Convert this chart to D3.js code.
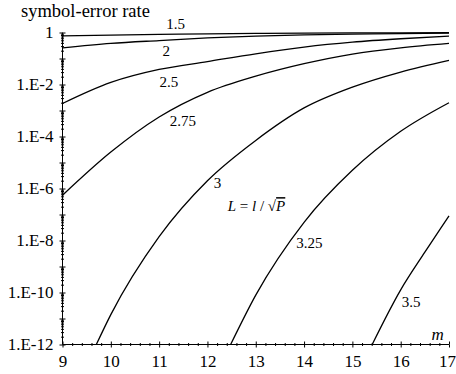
<!DOCTYPE html>
<html>
<head>
<meta charset="utf-8">
<script src="https://cdn.jsdelivr.net/npm/d3@7"></script>
<style>
  body { margin: 0; background: #fff; }
  svg text { font-family: "Liberation Serif", "Times New Roman", serif; fill: #000; }
</style>
</head>
<body>
<div id="chart"></div>
<script>
// L = l / sqrt(P) for each curve
const levels = ["1.5", "2", "2.5", "2.75", "3", "3.25", "3.5"];

// m values and log10(symbol-error rate)
const mAll = [9, 10, 11, 12, 13, 14, 15, 16, 17];
const ser15 = [-0.13, -0.10, -0.07, -0.05, -0.035, -0.025, -0.017, -0.011, -0.007];
const ser20 = [-0.59, -0.42, -0.31, -0.21, -0.14, -0.09, -0.06, -0.04, -0.025];
const ser25 = [-2.73, -1.92, -1.42, -1.12, -0.82, -0.56, -0.37, -0.24, -0.14];
const ser275 = [-6.26, -4.6, -3.25, -2.3, -1.68, -1.2, -0.83, -0.59, -0.42];
const m30 = [9.7, 10, 11, 12, 13, 14, 15, 16, 17];
const ser30 = [-12, -10.85, -7.85, -5.7, -4.15, -2.9, -2.1, -1.52, -1.07];
const m325 = [12.48, 13, 14, 15, 16, 17];
const ser325 = [-12, -10.1, -7.3, -5.3, -3.8, -2.7];
const m35 = [15.41, 16, 16.5, 17];
const ser35 = [-12, -9.9, -8.45, -7.05];

// where each curve's label sits (m, log10 rate)
const labelM = [11.15, 11.07, 11.01, 11.22, 12.13, 13.84, 16.02];
const labelE = [0.127, -0.91, -2.10, -3.60, -5.99, -8.30, -10.57];

const xTicks = [9, 10, 11, 12, 13, 14, 15, 16, 17];
const yTickExp = [0, -2, -4, -6, -8, -10, -12];
const yTickLabels = ["1", "1.E-2", "1.E-4", "1.E-6", "1.E-8", "1.E-10", "1.E-12"];

const width = 456, height = 374;

const curves = [
  { m: mAll, e: ser15 },
  { m: mAll, e: ser20 },
  { m: mAll, e: ser25 },
  { m: mAll, e: ser275 },
  { m: m30, e: ser30 },
  { m: m325, e: ser325 },
  { m: m35, e: ser35 }
].map(c => c.m.map((v, i) => ({ m: v, p: Math.pow(10, c.e[i]) })));

const svg = d3.select("#chart")
  .append("svg")
  .attr("width", width)
  .attr("height", height);

const x = d3.scaleLinear().domain([9, 17]).range([62.5, 449]);
const y = d3.scaleLog().domain([1e-12, 1]).range([344.5, 32.5]);

// tick positions
const majorY = d3.range(0, -13, -1).map(e => Math.pow(10, e));
const minorY = [];
for (let e = -12; e < 0; e++) {
  for (let k = 2; k <= 9; k++) minorY.push(k * Math.pow(10, e));
}
const minorX = d3.range(9, 17.001, 0.2).filter(v => Math.abs(v - Math.round(v)) > 0.01);

function clean(g) {
  g.select(".domain").remove();
  g.selectAll("line").attr("stroke", "#000");
}

// y axis ticks, both sides
svg.append("g").attr("transform", "translate(62.5,0)")
  .call(d3.axisLeft(y).tickValues(majorY).tickSize(3).tickFormat("")).call(clean);
svg.append("g").attr("transform", "translate(62.5,0)")
  .call(d3.axisRight(y).tickValues(majorY).tickSize(3).tickFormat("")).call(clean);
svg.append("g").attr("transform", "translate(62.5,0)")
  .call(d3.axisLeft(y).tickValues(minorY).tickSize(1.5).tickFormat("")).call(clean);
svg.append("g").attr("transform", "translate(62.5,0)")
  .call(d3.axisRight(y).tickValues(minorY).tickSize(1.5).tickFormat("")).call(clean);

// x axis ticks, both sides
svg.append("g").attr("transform", "translate(0,344.5)")
  .call(d3.axisBottom(x).tickValues(xTicks).tickSize(3).tickFormat("")).call(clean);
svg.append("g").attr("transform", "translate(0,344.5)")
  .call(d3.axisTop(x).tickValues(xTicks).tickSize(3).tickFormat("")).call(clean);
svg.append("g").attr("transform", "translate(0,344.5)")
  .call(d3.axisBottom(x).tickValues(minorX).tickSize(1.5).tickFormat("")).call(clean);
svg.append("g").attr("transform", "translate(0,344.5)")
  .call(d3.axisTop(x).tickValues(minorX).tickSize(1.5).tickFormat("")).call(clean);

// axis lines
svg.append("line")
  .attr("x1", 62.5).attr("x2", 62.5)
  .attr("y1", y(1)).attr("y2", y(1e-12))
  .attr("stroke", "#000");
svg.append("line")
  .attr("x1", x(9)).attr("x2", x(17))
  .attr("y1", 344.5).attr("y2", 344.5)
  .attr("stroke", "#000");

// tick labels
const yLab = svg.append("g").attr("transform", "translate(62.5,0)")
  .call(d3.axisLeft(y)
    .tickValues(yTickExp.map(e => Math.pow(10, e)))
    .tickSize(0).tickPadding(9)
    .tickFormat((d, i) => yTickLabels[i]));
yLab.select(".domain").remove();
yLab.selectAll("text").attr("font-size", 17);

const xLab = svg.append("g").attr("transform", "translate(0,344.5)")
  .call(d3.axisBottom(x).tickValues(xTicks).tickSize(0).tickPadding(10)
    .tickFormat(d3.format("d")));
xLab.select(".domain").remove();
xLab.selectAll("text").attr("font-size", 17)
  .attr("dx", d => d === 17 ? -2 : 0);

// curves
const line = d3.line()
  .x(d => x(d.m))
  .y(d => y(d.p))
  .curve(d3.curveMonotoneX);

svg.append("g")
  .selectAll("path")
  .data(curves)
  .join("path")
  .attr("d", line)
  .attr("fill", "none")
  .attr("stroke", "#000")
  .attr("stroke-width", 1.3);

// curve labels
svg.append("g")
  .selectAll("text")
  .data(levels)
  .join("text")
  .attr("x", (d, i) => x(labelM[i]))
  .attr("y", (d, i) => y(Math.pow(10, labelE[i])))
  .attr("font-size", 15)
  .text(d => d);

// title
svg.append("text")
  .attr("x", 21).attr("y", 16.5)
  .attr("font-size", 18.5)
  .text("symbol-error rate");

// m axis name
svg.append("text")
  .attr("x", x(16.64)).attr("y", 340)
  .attr("font-size", 17)
  .attr("font-style", "italic")
  .text("m");

// formula L = l / sqrt(P)
const f = svg.append("text")
  .attr("x", x(12.42)).attr("y", y(Math.pow(10, -6.87)))
  .attr("font-size", 15);
f.append("tspan").attr("font-style", "italic").text("L");
f.append("tspan").text(" = ");
f.append("tspan").attr("font-style", "italic").text("l");
f.append("tspan").text(" / \u221A");
f.append("tspan").attr("font-style", "italic")
  .style("text-decoration", "overline").text("P");
</script>
</body>
</html>
